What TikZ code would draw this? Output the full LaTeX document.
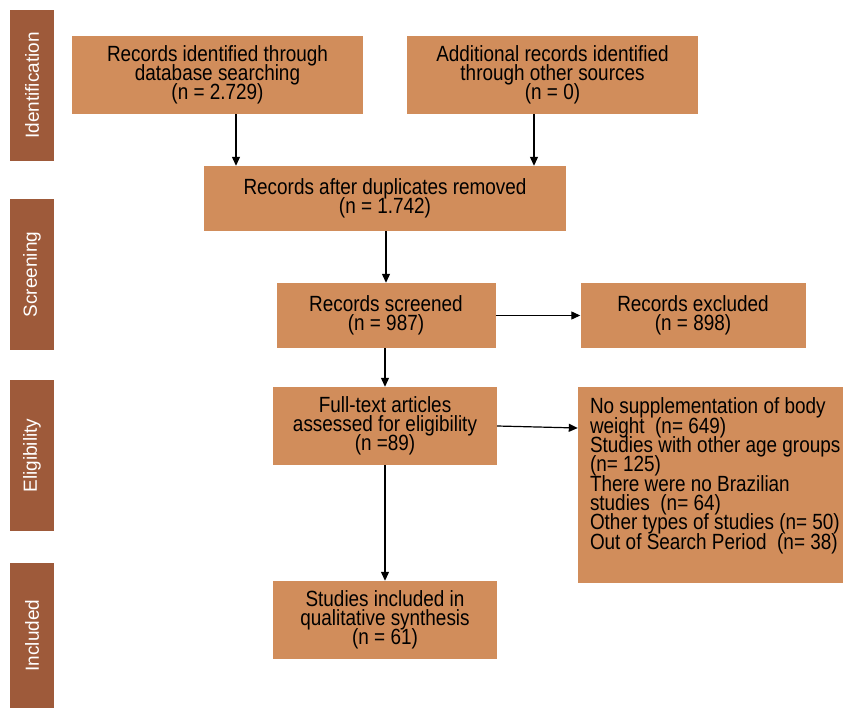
\documentclass[tikz,border=0pt]{standalone}
\usepackage{fontspec}
\setmainfont{Liberation Sans}[FakeStretch=0.86]
\newfontfamily\sidefont{Liberation Sans}
\usetikzlibrary{arrows.meta,positioning}
\definecolor{boxfill}{HTML}{D18D5B}
\definecolor{barfill}{HTML}{9E5A3A}
\newcommand\flowfont{\fontsize{22}{19.3}\selectfont\lineskiplimit=-20pt\relax}

\begin{document}
\begin{tikzpicture}[
  x=1pt, y=-1pt,
  box/.style={fill=boxfill, inner sep=0pt, align=center, font=\flowfont},
  txt/.style={inner sep=0pt, align=left, font=\flowfont},
  side/.style={fill=barfill, minimum width=44pt, text=white, inner sep=0pt, font=\sidefont\fontsize{19}{20}\selectfont},
  arrow/.style={-{Triangle[length=9pt,width=8pt]}, line width=1.2pt, draw=black}
]
\useasboundingbox (0,0) rectangle (843,708);

% phase bars
\node[side, minimum height=151pt] (sid) at (32,85.5) {\rotatebox{90}{Identification}};
\node[side, minimum height=151pt] (sscr) at (32,274.5) {\rotatebox{90}{Screening}};
\node[side, minimum height=151pt] (selg) at (32,455.5) {\rotatebox{90}{Eligibility}};
\node[side, minimum height=145pt] (sinc) at (32,635.5) {\rotatebox{90}{Included}};

% flow boxes
\node[box, minimum width=291pt, minimum height=78pt] (db) at (217.5,75) {Records identified through\\database searching\\(n = 2.729)};
\node[box, minimum width=291pt, minimum height=78pt] (oth) at (552.5,75) {Additional records identified\\through other sources\\(n = 0)};
\node[box, minimum width=362pt, minimum height=65pt] (dup) at (385,198.5) {Records after duplicates removed\\(n = 1.742)};
\node[box, minimum width=219pt, minimum height=65pt] (scr) at (386,315.5) {Records screened\\(n = 987)};
\node[box, minimum width=225pt, minimum height=65pt] (exc) at (693,315.5) {Records excluded\\(n = 898)};
\node[box, minimum width=224pt, minimum height=78pt] (full) at (385,426) {Full-text articles\\assessed for eligibility\\(n =89)};
\node[box, minimum width=265pt, minimum height=196pt] (rej) at (710.5,485) {};
\node[txt, anchor=north west] (rsn) at ([xshift=12pt,yshift=-11pt]rej.north west)
  {No supplementation of body\\weight\ \ (n= 649)\\Studies with other age groups\\(n= 125)\\There were no Brazilian\\studies\ \ (n= 64)\\Other types of studies (n= 50)\\Out of Search Period\ \ (n= 38)};
\node[box, minimum width=224pt, minimum height=78pt] (inc) at (385,620) {Studies included in\\qualitative synthesis\\(n = 61)};

\draw[arrow] ([xshift=18.5pt]db.south) -- ([xshift=18.5pt]db.south |- dup.north);
\draw[arrow] ([xshift=-18.5pt]oth.south) -- ([xshift=-18.5pt]oth.south |- dup.north);
\draw[arrow] (dup.south -| scr.north) -- (scr.north);
\draw[arrow] (scr) -- (exc);
\draw[arrow] (scr.south -| full.north) -- (full.north);
\draw[arrow] (full.east) -- ([yshift=-2pt]full.east -| rej.west);
\draw[arrow] (full) -- (inc);

\end{tikzpicture}
\end{document}
